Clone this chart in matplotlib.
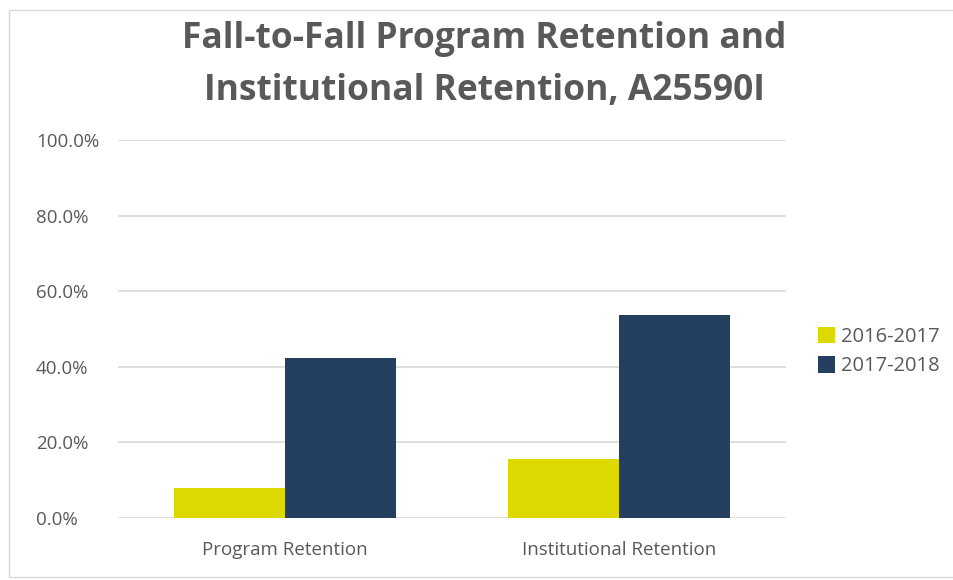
import numpy as np
from matplotlib import pyplot as plt
from matplotlib.ticker import PercentFormatter
from matplotlib.patches import Rectangle

categories = ["Program Retention", "Institutional Retention"]
series = ["2016-2017", "2017-2018"]
values_2016 = [0.078, 0.155]
values_2017 = [0.423, 0.538]
colors = ["#DDD800", "#243F60"]

plt.rcParams['font.family'] = ['Open Sans', 'DejaVu Sans']
text_col = "#595959"

fig = plt.figure(figsize=(9.54, 5.8), dpi=100)
ax = fig.add_axes([0.1237, 0.1074, 0.7003, 0.6512])

x = np.arange(len(categories))
w = 0.333
ax.bar(x - w / 2, values_2016, w, color=colors[0], label=series[0], zorder=3)
ax.bar(x + w / 2, values_2017, w, color=colors[1], label=series[1], zorder=3)

ax.set_xlim(-0.5, 1.5)
ax.set_ylim(0, 1.0)
ax.set_yticks(np.arange(0, 1.01, 0.2))
ax.yaxis.set_major_formatter(PercentFormatter(1.0, decimals=1))
ax.set_xticks(x)
ax.set_xticklabels(categories)
ax.grid(axis='y', color="#d9d9d9", linewidth=1.2, zorder=0)
for s in ax.spines.values():
    s.set_visible(False)
ax.tick_params(length=0, labelsize=13.5, labelcolor=text_col)
ax.tick_params(axis='x', pad=17)
for lbl in ax.get_yticklabels():
    lbl.set_horizontalalignment('left')
ax.yaxis.set_tick_params(pad=59)

leg = ax.legend(loc='center left', bbox_to_anchor=(1.02, 0.44), frameon=False,
                fontsize=14.5, handlelength=0.85, handleheight=0.9, handletextpad=0.3,
                labelspacing=0.45, labelcolor=text_col)

fig.text(0.508, 0.932, "Fall-to-Fall Program Retention and", ha='center', va='center',
         fontsize=25.5, fontweight='bold', color=text_col)
fig.text(0.508, 0.843, "Institutional Retention, A25590I", ha='center', va='center',
         fontsize=25.5, fontweight='bold', color=text_col)

fig.patches.append(Rectangle((0.009, 0.005), 1.2, 0.978, transform=fig.transFigure,
                             fill=False, edgecolor="#d9d9d9", linewidth=1))

fig.savefig("out.png", dpi=100)
